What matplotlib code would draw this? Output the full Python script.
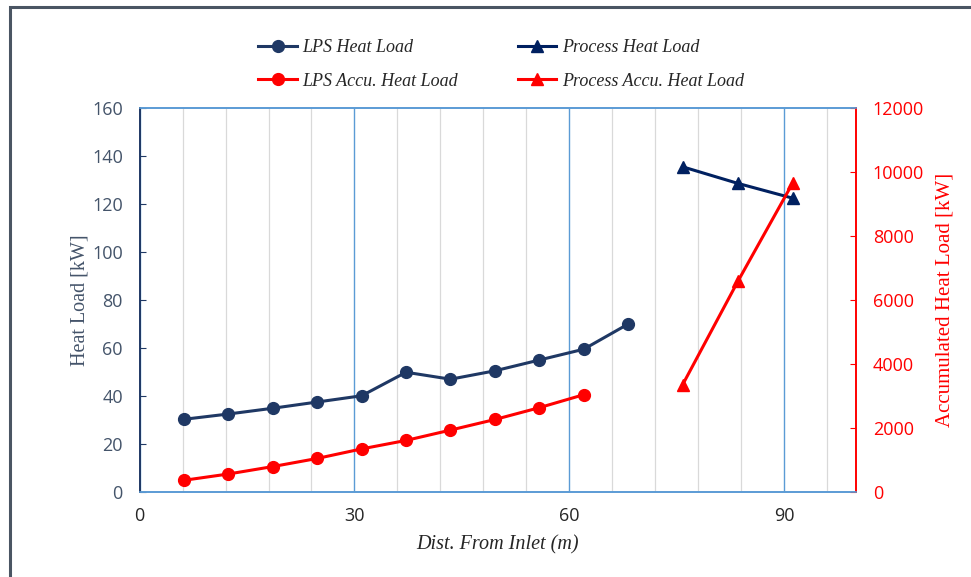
import matplotlib
matplotlib.use("Agg")
import matplotlib.pyplot as plt
from matplotlib.ticker import MultipleLocator
from matplotlib.patches import Rectangle

# Data
lps_x = [6.2, 12.4, 18.6, 24.8, 31.0, 37.2, 43.4, 49.6, 55.8, 62.0, 68.2]
lps_heat = [30.3, 32.5, 34.9, 37.5, 40.1, 49.9, 47.0, 50.5, 55.0, 59.5, 70.0]
lps_accu = [366, 563, 795, 1049, 1347, 1612, 1935, 2266, 2636, 3041]
lps_accu_x = lps_x[:10]
proc_x = [75.8, 83.5, 91.2]
proc_heat = [135.5, 128.6, 122.4]
proc_accu = [3354, 6580, 9671]

navy = "#1F3864"
navy2 = "#002060"
red = "#FF0000"
tickcol = "#44546A"
blue = "#5B9BD5"

fig = plt.figure(figsize=(9.71, 5.77), dpi=100)
# figure border
fig.patches.append(Rectangle((0.0105, -0.05), 1.05, 1.038, transform=fig.transFigure,
                             fill=False, edgecolor="#4a5563", linewidth=2.2))

ax = fig.add_axes([0.1437, 0.1473, 0.7379, 0.6655])
ax2 = ax.twinx()

ax.set_xlim(0, 100)
ax.set_ylim(0, 160)
ax2.set_ylim(0, 12000)

ax.xaxis.set_major_locator(MultipleLocator(30))
ax.xaxis.set_minor_locator(MultipleLocator(6))
ax.yaxis.set_major_locator(MultipleLocator(20))
ax2.yaxis.set_major_locator(MultipleLocator(2000))

ax.grid(which="minor", axis="x", color="#D9D9D9", linewidth=0.9)
ax.grid(which="major", axis="x", color=blue, linewidth=1.0)
ax.set_axisbelow(True)

l1, = ax.plot(lps_x, lps_heat, color=navy, marker="o", markersize=8.5, linewidth=2.2,
              label="LPS Heat Load", zorder=3)
l2, = ax.plot(proc_x, proc_heat, color=navy2, marker="^", markersize=8.5, linewidth=2.2,
              label="Process Heat Load", zorder=3)
l3, = ax2.plot(lps_accu_x, lps_accu, color=red, marker="o", markersize=8.5, linewidth=2.2,
               label="LPS Accu. Heat Load", zorder=3)
l4, = ax2.plot(proc_x, proc_accu, color=red, marker="^", markersize=8.5, linewidth=2.2,
               label="Process Accu. Heat Load", zorder=3)

for a in (ax, ax2):
    a.spines["top"].set_color(blue)
    a.spines["bottom"].set_color(blue)
    a.spines["left"].set_color(navy)
    a.spines["right"].set_color(red)
    for s in a.spines.values():
        s.set_linewidth(1.2)

ax.tick_params(axis="x", which="both", length=0, pad=11, labelsize=13, labelcolor="#262626")
ax.tick_params(axis="y", direction="in", length=4, color=navy, pad=12, labelsize=13, labelcolor=tickcol)
ax2.tick_params(axis="y", direction="in", length=4, color=red, pad=12, labelsize=13, labelcolor=red)
for lab in ax.get_xticklabels() + ax.get_yticklabels() + ax2.get_yticklabels():
    lab.set_family("Open Sans")

ax.set_xlabel("Dist. From Inlet (m)", family="Liberation Serif", style="italic",
              fontsize=14.5, color="#262626", labelpad=7)
ax.set_ylabel("Heat Load [kW]", family="Liberation Serif", fontsize=14.5, color=tickcol, labelpad=2)
ax2.set_ylabel("Accumulated Heat Load [kW]", family="Liberation Serif", fontsize=15, color=red,
               labelpad=8.5)

fig.legend([l1, l3, l2, l4],
           ["LPS Heat Load", "LPS Accu. Heat Load", "Process Heat Load", "Process Accu. Heat Load"],
           ncol=2, loc="center", bbox_to_anchor=(0.516, 0.888), frameon=False,
           prop={"family": "Liberation Serif", "style": "italic", "size": 13},
           columnspacing=3.3, handlelength=2.15, labelspacing=0.9, handletextpad=0.3,
           labelcolor="#262626")

fig.savefig("out.png", dpi=100)
